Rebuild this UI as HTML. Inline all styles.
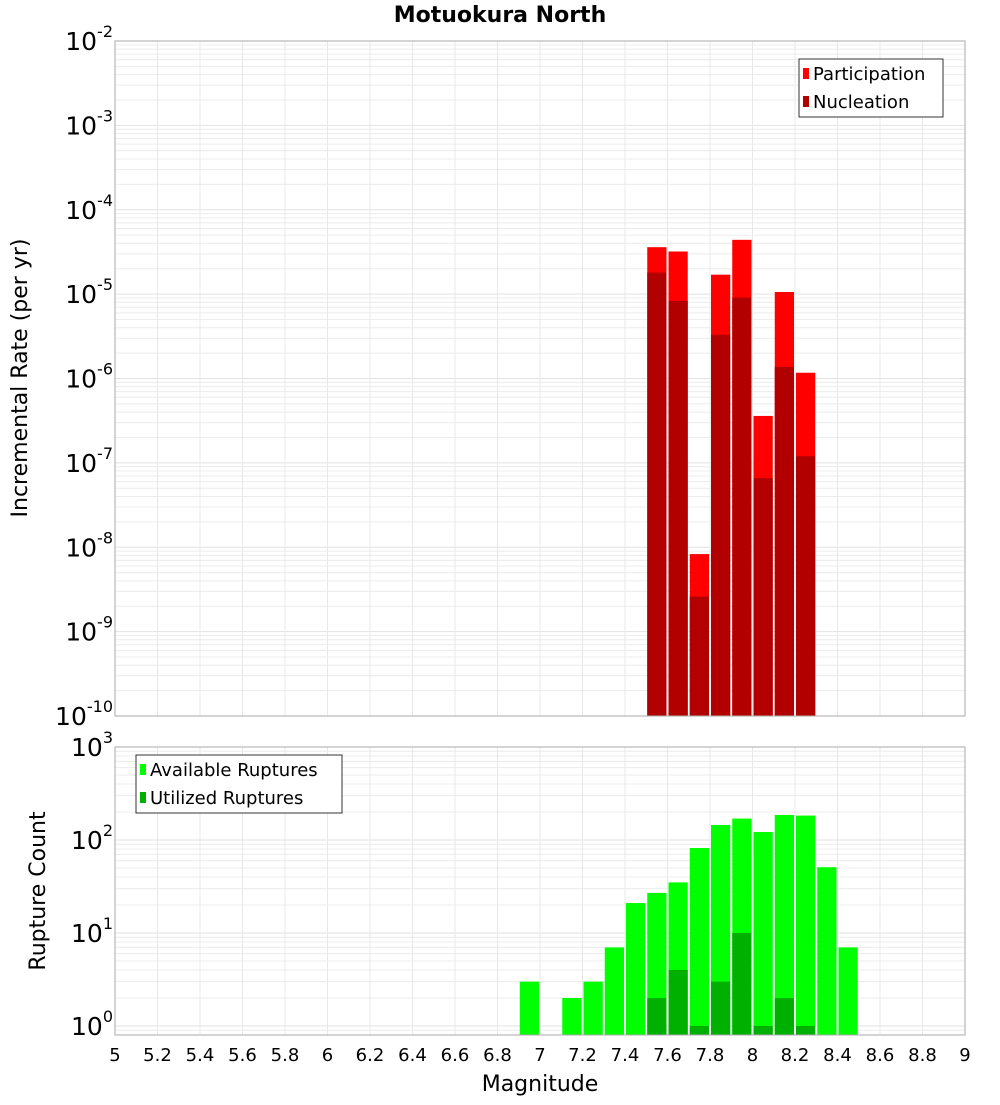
<!DOCTYPE html>
<html><head><meta charset="utf-8"><style>
body{margin:0;background:#fff;}
svg text{font-family:"DejaVu Sans","Liberation Sans",sans-serif;}
</style></head><body>
<svg id="c" width="1000" height="1100" xmlns="http://www.w3.org/2000/svg"></svg>
<script>
const binCenters=[7.55,7.65,7.75,7.85,7.95,8.05,8.15,8.25];
const participation=[3.6e-5,3.2e-5,8.3e-9,1.7e-5,4.4e-5,3.6e-7,1.06e-5,1.17e-6];
const nucleation=[1.8e-5,8.3e-6,2.6e-9,3.3e-6,9.1e-6,6.6e-8,1.37e-6,1.2e-7];
const countCenters=[6.95,7.15,7.25,7.35,7.45,7.55,7.65,7.75,7.85,7.95,8.05,8.15,8.25,8.35,8.45];
const available=[3,2,3,7,21,27,35,82,145,170,122,186,183,51,7];
const utilized=[0,0,0,0,0,2,4,1,3,10,1,2,1,0,0];
const xTicks=[5,5.2,5.4,5.6,5.8,6,6.2,6.4,6.6,6.8,7,7.2,7.4,7.6,7.8,8,8.2,8.4,8.6,8.8,9];
const topExps=[-2,-3,-4,-5,-6,-7,-8,-9,-10];
const botExps=[3,2,1,0];

const svg=document.getElementById('c');
const NS='http://www.w3.org/2000/svg';
function mk(t,a,p){const e=document.createElementNS(NS,t);for(const k in a)e.setAttribute(k,a[k]);(p||svg).appendChild(e);return e;}
const X0=115,X1=965;
const xs=v=>X0+(v-5)/4*(X1-X0);
const T0=41,T1=716;
const yTop=v=>T0+(-2-Math.log10(v))*(T1-T0)/8;
const B0=747,B1=1035,BPD=93;
const yBot=v=>B0+(3-Math.log10(v))*BPD;

function grid(y0,y1,expLo,expHi,yf,name){
  const g=mk('g',{});
  
  
  for(let e=expLo;e<=expHi;e++)for(let m=1;m<10;m++){
    const y=yf(m*Math.pow(10,e));
    if(y<y0-0.5||y>y1+0.5)continue;
    mk('line',{x1:X0,x2:X1,y1:y,y2:y,stroke:m==1?'#e2e2e2':'#ececec','stroke-width':1},g);
  }
  xTicks.forEach(t=>{const x=xs(t);mk('line',{x1:x,x2:x,y1:y0,y2:y1,stroke:'#e8e8e8','stroke-width':1},g);});
}
grid(T0,T1,-10,-3,yTop,'top-grid');
grid(B0,B1,-1,2,yBot,'bottom-grid');

// top bars
binCenters.forEach((c,i)=>{
  const x=xs(c-0.05)+1,w=xs(c+0.05)-xs(c-0.05)-2;
  let y=yTop(participation[i]);
  let r=mk('rect',{x:x,y:y,width:w,height:T1-y,fill:'#ff0000'});
  
  
  y=yTop(nucleation[i]);
  r=mk('rect',{x:x,y:y,width:w,height:T1-y,fill:'#b20000'});
  
  
});
countCenters.forEach((c,i)=>{
  const x=xs(c-0.05)+1,w=xs(c+0.05)-xs(c-0.05)-2;
  let y=yBot(available[i]);
  let r=mk('rect',{x:x,y:y,width:w,height:B1-y,fill:'#00ff00'});
  
  
  if(utilized[i]>0){
    y=yBot(utilized[i]);
    r=mk('rect',{x:x,y:y,width:w,height:B1-y,fill:'#00b000'});
    
    
  }
});
mk('rect',{x:X0,y:T0,width:X1-X0,height:T1-T0,fill:'none',stroke:'#aaa'});
mk('rect',{x:X0,y:B0,width:X1-X0,height:B1-B0,fill:'none',stroke:'#aaa'});

function expLabel(y,e,name){
  const t=mk('text',{x:113,y:y+9,'text-anchor':'end','font-size':25,fill:'#000'});
  
  
  t.appendChild(document.createTextNode('10'));
  const s=mk('tspan',{dy:-13,'font-size':16},t);s.textContent=String(e);
}
topExps.forEach(e=>expLabel(yTop(Math.pow(10,e)),e,'top-y-tick-label'));
botExps.forEach(e=>expLabel(yBot(Math.pow(10,e)),e,'bottom-y-tick-label'));
xTicks.forEach(t=>{
  const el=mk('text',{x:xs(t),y:1061,'text-anchor':'middle','font-size':18,fill:'#000'});
  
  
  el.textContent=String(t);
});
let el=mk('text',{x:500,y:22,'text-anchor':'middle','font-size':22,'font-weight':'bold'});
el.textContent='Motuokura North';
el=mk('text',{x:540,y:1091,'text-anchor':'middle','font-size':22});
el.textContent='Magnitude';
el=mk('text',{x:0,y:0,'text-anchor':'middle','font-size':22,transform:'translate(27,378) rotate(-90)'});
el.textContent='Incremental Rate (per yr)';
el=mk('text',{x:0,y:0,'text-anchor':'middle','font-size':22,transform:'translate(45,891) rotate(-90)'});
el.textContent='Rupture Count';

function legend(x,y,w,items,name){
  const g=mk('g',{});
  
  mk('rect',{x:x,y:y,width:w,height:58,fill:'#fff',stroke:'#333'},g);
  items.forEach((it,i)=>{
    mk('rect',{x:x+4,y:y+9+i*28,width:6,height:11,fill:it[1]},g);
    const t=mk('text',{x:x+14,y:y+21+i*28,'font-size':18},g);t.textContent=it[0];
  });
}
legend(799,59,144,[['Participation','#ff0000'],['Nucleation','#b20000']],'top-legend');
legend(136,755,206,[['Available Ruptures','#00ff00'],['Utilized Ruptures','#00b000']],'bottom-legend');
</script>
</body></html>
